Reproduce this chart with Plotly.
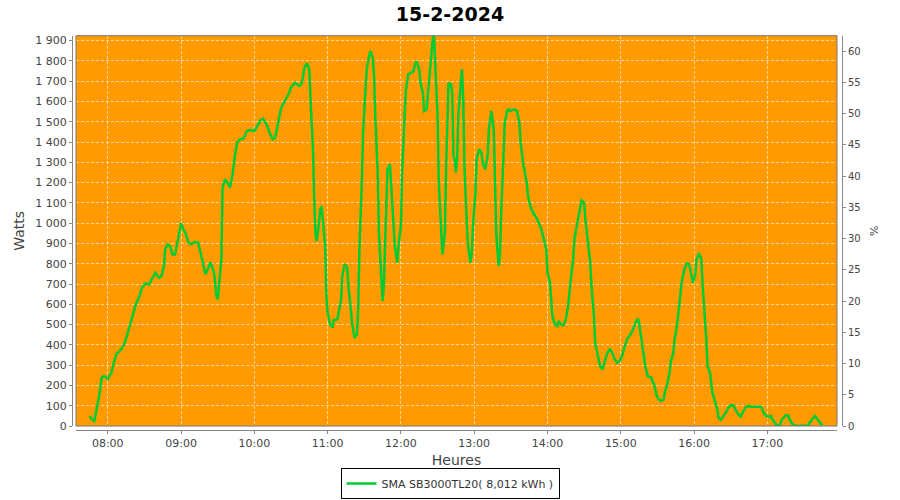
import plotly.graph_objects as go

DAY = "2024-02-15"
title_text = "15-2-2024"
series_name = "SMA SB3000TL20( 8,012 kWh )"

times = [
    "07:45", "07:47", "07:49", "07:51", "07:53", "07:55", "07:57", "08:00", "08:03", "08:05",
    "08:07", "08:11", "08:14", "08:18", "08:21", "08:23", "08:26", "08:28", "08:31", "08:34",
    "08:36", "08:39", "08:42", "08:44", "08:46", "08:47", "08:49", "08:51", "08:53", "08:55",
    "08:57", "08:59", "09:00", "09:02", "09:04", "09:06", "09:08", "09:11", "09:14", "09:16",
    "09:18", "09:20", "09:22", "09:24", "09:27", "09:29", "09:30", "09:31", "09:33", "09:34",
    "09:36", "09:38", "09:40", "09:42", "09:44", "09:46", "09:48", "09:51", "09:54", "09:56",
    "10:00", "10:02", "10:05", "10:07", "10:10", "10:13", "10:15", "10:17", "10:20", "10:22",
    "10:25", "10:28", "10:30", "10:33", "10:35", "10:37", "10:39", "10:41", "10:43", "10:45",
    "10:46", "10:48", "10:49", "10:50", "10:51", "10:52", "10:54", "10:55", "10:56", "10:58",
    "10:59", "11:00", "11:02", "11:04", "11:05", "11:08", "11:09", "11:11", "11:12", "11:14",
    "11:16", "11:17", "11:19", "11:20", "11:22", "11:24", "11:25", "11:26", "11:28", "11:29",
    "11:31", "11:32", "11:34", "11:35", "11:37", "11:38", "11:39", "11:41", "11:42", "11:44",
    "11:45", "11:46", "11:47", "11:48", "11:49", "11:51", "11:52", "11:54", "11:55", "11:57",
    "11:58", "12:00", "12:01", "12:03", "12:04", "12:06", "12:08", "12:10", "12:12", "12:13",
    "12:15", "12:16", "12:18", "12:19", "12:21", "12:22", "12:23", "12:25", "12:26", "12:27",
    "12:28", "12:30", "12:31", "12:33", "12:34", "12:36", "12:37", "12:39", "12:41", "12:42",
    "12:43", "12:44", "12:45", "12:46", "12:47", "12:49", "12:50", "12:51", "12:52", "12:54",
    "12:55", "12:57", "12:58", "12:59", "13:01", "13:02", "13:04", "13:06", "13:07", "13:09",
    "13:11", "13:12", "13:14", "13:16", "13:17", "13:18", "13:20", "13:21", "13:22", "13:24",
    "13:25", "13:27", "13:28", "13:29", "13:31", "13:33", "13:35", "13:37", "13:38", "13:40",
    "13:43", "13:44", "13:46", "13:48", "13:51", "13:53", "13:55", "13:57", "13:59", "14:00",
    "14:02", "14:03", "14:04", "14:06", "14:08", "14:09", "14:11", "14:13", "14:15", "14:16",
    "14:17", "14:19", "14:21", "14:22", "14:24", "14:26", "14:28", "14:30", "14:31", "14:33",
    "14:35", "14:36", "14:38", "14:39", "14:41", "14:43", "14:45", "14:47", "14:49", "14:51",
    "14:53", "14:55", "14:57", "14:59", "15:01", "15:03", "15:05", "15:08", "15:10", "15:12",
    "15:14", "15:15", "15:17", "15:19", "15:20", "15:22", "15:25", "15:26", "15:28", "15:29",
    "15:31", "15:33", "15:35", "15:36", "15:38", "15:40", "15:41", "15:43", "15:44", "15:46",
    "15:48", "15:50", "15:52", "15:54", "15:56", "15:58", "15:59", "16:01", "16:02", "16:04",
    "16:06", "16:07", "16:09", "16:10", "16:11", "16:13", "16:14", "16:15", "16:17", "16:19",
    "16:20", "16:22", "16:24", "16:26", "16:28", "16:30", "16:32", "16:34", "16:36", "16:38",
    "16:40", "16:42", "16:44", "16:47", "16:50", "16:53", "16:55", "16:57", "16:59", "17:01",
    "17:03", "17:04", "17:06", "17:08", "17:10", "17:12", "17:15", "17:17", "17:18", "17:20",
    "17:23", "17:25", "17:28", "17:31", "17:33", "17:35", "17:38", "17:39", "17:41", "17:43",
    "17:45",
]

watts = [
    49, 33, 25, 82, 148, 238, 246, 233, 263, 312,
    353, 378, 411, 493, 559, 600, 641, 682, 703, 698,
    723, 756, 731, 739, 789, 871, 895, 887, 846, 846,
    904, 969, 999, 969, 945, 904, 895, 907, 904, 854,
    805, 748, 772, 808, 756, 641, 624, 690, 821, 1175,
    1216, 1199, 1175, 1232, 1331, 1397, 1413, 1416, 1454, 1459,
    1454, 1475, 1508, 1515, 1487, 1438, 1413, 1421, 1503, 1569,
    1602, 1635, 1668, 1692, 1684, 1676, 1692, 1766, 1788, 1758,
    1610, 1364, 1117, 953, 912, 953, 1068, 1084, 1019, 887,
    640, 559, 501, 485, 522, 526, 559, 624, 739, 797,
    780, 690, 575, 509, 435, 452, 575, 871, 1199, 1446,
    1659, 1758, 1824, 1848, 1816, 1725, 1528, 1249, 953, 706,
    616, 690, 871, 1134, 1265, 1290, 1183, 1019, 887, 805,
    887, 986, 1249, 1528, 1651, 1733, 1742, 1745, 1791, 1794,
    1758, 1692, 1643, 1553, 1561, 1627, 1700, 1848, 1906, 1930,
    1791, 1528, 1199, 953, 846, 953, 1282, 1692, 1684, 1643,
    1331, 1314, 1249, 1314, 1528, 1692, 1758, 1610, 1282, 986,
    887, 805, 854, 986, 1150, 1314, 1364, 1347, 1298, 1265,
    1331, 1462, 1553, 1462, 1249, 953, 789, 838, 1035, 1397,
    1495, 1553, 1564, 1553, 1556, 1561, 1553, 1495, 1397, 1298,
    1199, 1134, 1084, 1052, 1027, 1002, 969, 920, 871, 756,
    706, 624, 542, 501, 493, 518, 501, 496, 526, 559,
    600, 720, 820, 920, 994, 1052, 1111, 1101, 1019, 904,
    805, 690, 542, 411, 345, 296, 279, 320, 361, 378,
    361, 329, 312, 320, 345, 386, 427, 452, 476, 509,
    529, 509, 427, 361, 296, 246, 238, 222, 189, 156,
    131, 123, 131, 164, 205, 263, 320, 361, 427, 493,
    608, 715, 772, 802, 797, 740, 706, 745, 821, 852,
    821, 690, 542, 427, 296, 263, 214, 164, 123, 82,
    41, 30, 49, 66, 90, 102, 102, 82, 58, 46,
    66, 90, 99, 95, 95, 95, 95, 66, 49, 46,
    49, 33, 13, 0, 3, 33, 53, 53, 36, 13,
    0, 0, 0, 0, 3, 20, 43, 49, 33, 20,
    3,
]

watt_ticks = list(range(0, 2000, 100))
watt_tick_labels = [f"{v:,}".replace(",", "\u00a0") for v in watt_ticks]
pct_ticks = list(range(0, 65, 5))
hour_ticks = ["08:00", "09:00", "10:00", "11:00", "12:00", "13:00", "14:00", "15:00", "16:00", "17:00"]
x_range = ["07:34", "17:57"]
watt_range = [0, 1924]
pct_range = [0, 62.45]

x_vals = [f"{DAY} {t}" for t in times]

W, H = 900, 500
ml, mr, mt, mb = 72, 58, 35, 70
pw, ph = W - ml - mr, H - mt - mb
x_dom = [(76 - ml) / pw, (837 - ml) / pw]
y_dom = [(H - mb - 426) / ph, 1 - (35.7 - mt) / ph]

FONT = "DejaVu Sans"
TXT = "#444444"
AX = "#888888"
GRID = "rgba(255,255,255,0.6)"
GRIDDASH = "3px,2px"

fig = go.Figure()
fig.add_trace(go.Scatter(
    x=x_vals, y=watts, mode="lines", name=series_name,
    line=dict(color="#00CC33", width=2.5),
))
fig.add_trace(go.Scatter(
    x=[x_vals[0]], y=[0], yaxis="y2", mode="lines", showlegend=False,
    hoverinfo="skip", line=dict(color="rgba(0,0,0,0)"),
))

fig.update_layout(
    width=W, height=H,
    margin=dict(l=ml, r=mr, t=mt, b=mb, autoexpand=False),
    paper_bgcolor="white",
    plot_bgcolor="#FF9A00",
    font=dict(family=FONT, color=TXT, size=11),
    title=dict(text=title_text, x=0.5, xref="container", xanchor="center",
               y=1 - 14 / H, yref="container", yanchor="middle",
               font=dict(family=FONT, size=19, color="black", weight="bold")),
    showlegend=True,
    legend=dict(orientation="h", xref="container", x=450 / W, xanchor="center",
                yref="container", y=1 / H, yanchor="bottom",
                bordercolor="black", borderwidth=1, bgcolor="white",
                font=dict(family=FONT, size=11, color="#333333"),
                itemwidth=30, tracegroupgap=0),
    xaxis=dict(
        type="date", domain=x_dom, anchor="free", position=0, automargin=False,
        range=[f"{DAY} {x_range[0]}", f"{DAY} {x_range[1]}"],
        tickvals=[f"{DAY} {t}" for t in hour_ticks], ticktext=hour_ticks,
        showgrid=True, gridcolor=GRID, griddash=GRIDDASH, gridwidth=1,
        showline=True, linecolor=AX, linewidth=1,
        ticks="outside", ticklen=3, tickcolor=AX,
        tickfont=dict(family=FONT, size=11, color=TXT),
        title=dict(text="Heures", font=dict(family=FONT, size=14, color=TXT), standoff=9),
        zeroline=False,
    ),
    yaxis=dict(
        domain=y_dom, anchor="free", position=0, automargin=False,
        range=watt_range, tickvals=watt_ticks, ticktext=watt_tick_labels,
        showgrid=True, gridcolor=GRID, griddash=GRIDDASH, gridwidth=1,
        showline=True, linecolor=AX, linewidth=1,
        ticks="outside", ticklen=3, tickcolor=AX,
        tickfont=dict(family=FONT, size=11, color=TXT),
        title=dict(text="Watts", font=dict(family=FONT, size=14, color=TXT), standoff=6),
        zeroline=False,
    ),
    yaxis2=dict(
        domain=y_dom, anchor="free", position=1, overlaying="y", side="right",
        automargin=False,
        range=pct_range, tickvals=pct_ticks,
        showgrid=False, showline=True, linecolor=AX, linewidth=1,
        ticks="outside", ticklen=3, tickcolor=AX,
        tickfont=dict(family=FONT, size=10, color=TXT),
        title=dict(text="%", font=dict(family=FONT, size=11, color=TXT), standoff=10),
        zeroline=False,
    ),
    shapes=[dict(type="rect", xref="x domain", yref="y domain", x0=0, x1=1, y0=0, y1=1,
                 line=dict(color="#777777", width=1), layer="above")],
)

fig.write_html("out.html", config={"displayModeBar": False},
               post_script="document.body.style.margin='0';")
